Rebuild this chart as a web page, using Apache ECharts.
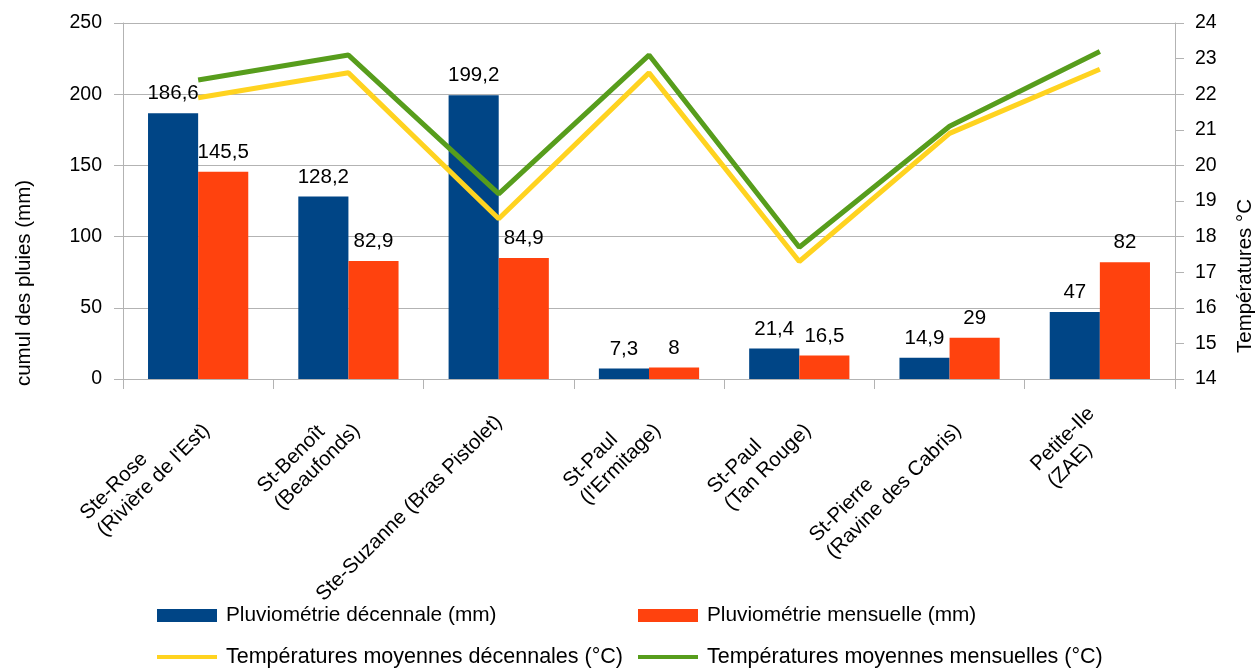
<!DOCTYPE html>
<html>
<head>
<meta charset="utf-8">
<script src="https://cdn.jsdelivr.net/npm/echarts@6/dist/echarts.min.js"></script>
<style>
html,body{margin:0;padding:0;background:#fff;}
#chart{width:1259px;height:668px;}
</style>
</head>
<body>
<div id="chart"></div>
<script>
const categories = [
  "Ste-Rose\n(Rivière de l'Est)",
  "St-Benoît\n(Beaufonds)",
  "Ste-Suzanne (Bras Pistolet)",
  "St-Paul\n(l'Ermitage)",
  "St-Paul\n(Tan Rouge)",
  "St-Pierre\n(Ravine des Cabris)",
  "Petite-Ile\n(ZAE)"
];
const pluvioDecennale = [186.6, 128.2, 199.2, 7.3, 21.4, 14.9, 47];
const pluvioMensuelle = [145.5, 82.9, 84.9, 8, 16.5, 29, 82];
const tempDecennale = [21.9, 22.6, 18.5, 22.6, 17.3, 20.9, 22.7];
const tempMensuelle = [22.4, 23.1, 19.2, 23.1, 17.7, 21.1, 23.2];
const seriesNames = [
  "Pluviométrie décennale (mm)",
  "Pluviométrie mensuelle (mm)",
  "Températures moyennes décennales (°C)",
  "Températures moyennes mensuelles (°C)"
];
const leftAxisName = "cumul des pluies (mm)";
const rightAxisName = "Températures °C";

const FONT = "Liberation Sans, Arial, sans-serif";
const gray = "#b3b3b3";
const chart = echarts.init(document.getElementById('chart'));
const labelFmt = p => String(p.value).replace('.', ',');

function legendFor(name, left, top, isLine) {
  return {
    left: left, top: top, orient: 'horizontal', padding: 0,
    itemWidth: 60, itemHeight: isLine ? 4 : 13, icon: 'rect',
    data: [{name: name, icon: 'rect'}],
    textStyle: {fontFamily: FONT, fontSize: isLine ? 21.5 : 20.8, color: '#000', padding: [0, 0, 0, 4]}
  };
}

chart.setOption({
  animation: false,
  backgroundColor: '#fff',
  grid: {left: 123, right: 84, top: 23, bottom: 289, outerBoundsMode: 'none', containLabel: false},
  legend: [
    legendFor(seriesNames[0], 157, 605, false),
    legendFor(seriesNames[2], 157, 646, true),
    legendFor(seriesNames[1], 638, 605, false),
    legendFor(seriesNames[3], 638, 646, true)
  ],
  xAxis: {
    type: 'category',
    data: categories,
    axisLine: {lineStyle: {color: gray, width: 1}},
    axisTick: {show: true, length: 10, lineStyle: {color: gray}},
    axisLabel: {
      interval: 0, rotate: 45, margin: 40, color: '#000',
      fontFamily: FONT, fontSize: 20.5,
      formatter: v => v.split('\n').map(s => '{a|' + s + '}').join('\n'),
      rich: {a: {align: 'left', fontFamily: FONT, fontSize: 20.5, color: '#000', lineHeight: 24}}
    }
  },
  yAxis: [
    {
      type: 'value', min: 0, max: 250, interval: 50, position: 'left',
      name: leftAxisName, nameLocation: 'middle', nameRotate: 90, nameGap: 88,
      nameTextStyle: {fontFamily: FONT, fontSize: 20.5, color: '#000', padding: [0, 164, 0, 0]},
      axisLine: {show: true, lineStyle: {color: gray}},
      axisTick: {show: true, length: 9, lineStyle: {color: gray}},
      axisLabel: {margin: 21, color: '#000', fontFamily: FONT, fontSize: 19.5},
      splitLine: {show: true, lineStyle: {color: gray}}
    },
    {
      type: 'value', min: 14, max: 24, interval: 1, position: 'right',
      name: rightAxisName, nameLocation: 'middle', nameRotate: 90, nameGap: 60,
      nameTextStyle: {fontFamily: FONT, fontSize: 20.5, color: '#000', padding: [0, 150, 0, 0]},
      axisLine: {show: true, lineStyle: {color: gray}},
      axisTick: {show: true, length: 9, lineStyle: {color: gray}},
      axisLabel: {margin: 20, color: '#000', fontFamily: FONT, fontSize: 19.5},
      splitLine: {show: false}
    }
  ],
  series: [
    {name: seriesNames[0], type: 'bar', data: pluvioDecennale, yAxisIndex: 0,
     barGap: '0%', barCategoryGap: '33.3%', itemStyle: {color: '#004586'},
     label: {show: true, position: 'top', distance: 9, formatter: labelFmt, color: '#000', fontFamily: FONT, fontSize: 20.5}},
    {name: seriesNames[1], type: 'bar', data: pluvioMensuelle, yAxisIndex: 0,
     barGap: '0%', barCategoryGap: '33.3%', itemStyle: {color: '#ff420e'},
     label: {show: true, position: 'top', distance: 9, formatter: labelFmt, color: '#000', fontFamily: FONT, fontSize: 20.5}},
    {name: seriesNames[2], type: 'line', data: tempDecennale, yAxisIndex: 1,
     symbol: 'none', lineStyle: {color: '#ffd320', width: 5}, itemStyle: {color: '#ffd320'}, z: 3},
    {name: seriesNames[3], type: 'line', data: tempMensuelle, yAxisIndex: 1,
     symbol: 'none', lineStyle: {color: '#579d1c', width: 5}, itemStyle: {color: '#579d1c'}, z: 3}
  ]
});
</script>
</body>
</html>
